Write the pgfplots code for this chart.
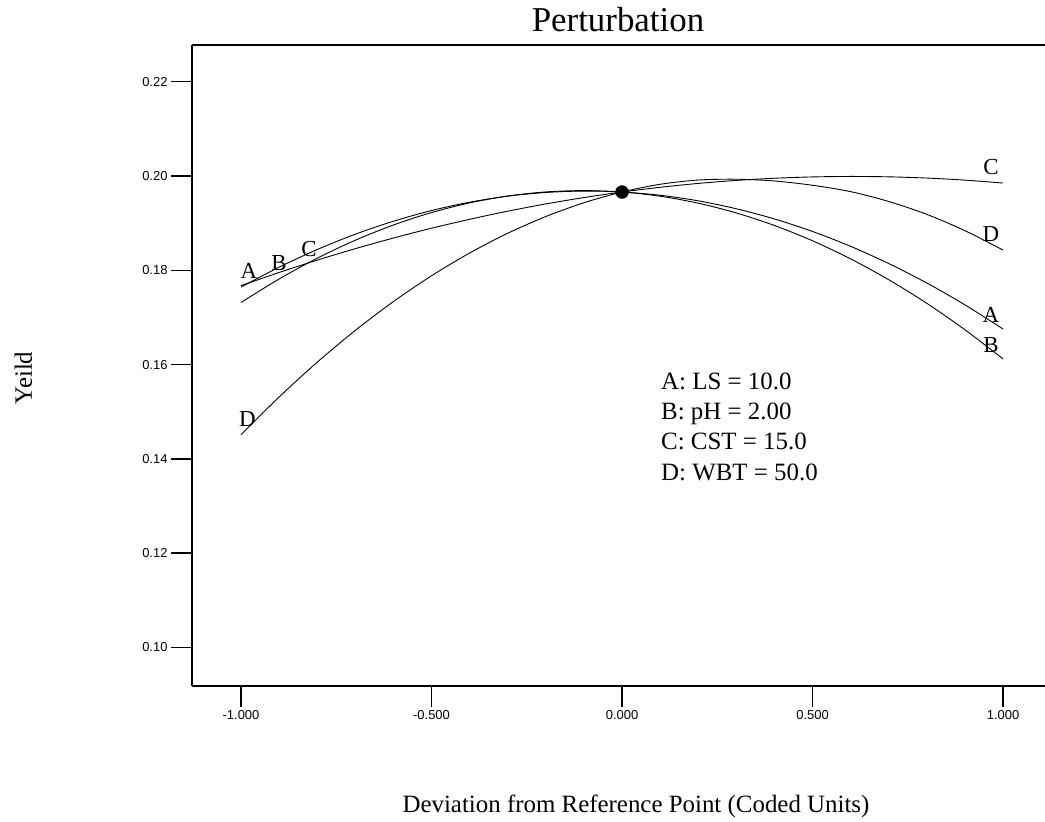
\documentclass[border=0pt]{standalone}
\usepackage{pgfplots}
\pgfplotsset{compat=1.18}
\usepackage{fontspec}
\setmainfont{Liberation Serif}
\newfontfamily\tickfont{Liberation Sans}

\pgfplotstableread{
x A B C D
-1.0 0.17643 0.17316 0.17674 0.14510
-0.9 0.18066 0.17815 0.17953 0.15312
-0.8 0.18440 0.18256 0.18215 0.16050
-0.7 0.18765 0.18637 0.18458 0.16725
-0.6 0.19040 0.18960 0.18684 0.17336
-0.5 0.19267 0.19224 0.18892 0.17883
-0.4 0.19444 0.19429 0.19081 0.18366
-0.3 0.19572 0.19575 0.19253 0.18785
-0.2 0.19650 0.19662 0.19407 0.19140
-0.1 0.19680 0.19690 0.19542 0.19432
0.0 0.19660 0.19660 0.19660 0.19660
0.1 0.19591 0.19571 0.19760 0.19824
0.2 0.19473 0.19423 0.19842 0.19914
0.3 0.19305 0.19216 0.19906 0.19931
0.4 0.19089 0.18950 0.19952 0.19894
0.5 0.18823 0.18626 0.19980 0.19803
0.6 0.18508 0.18242 0.19990 0.19668
0.7 0.18143 0.17800 0.19982 0.19459
0.8 0.17730 0.17299 0.19956 0.19186
0.9 0.17267 0.16739 0.19912 0.18840
1.0 0.16755 0.16120 0.19850 0.18430
}\curves

\begin{document}
\begin{tikzpicture}
\useasboundingbox (0,0) rectangle (1045bp,822bp);
\begin{axis}[
  at={(192bp,136bp)}, anchor=south west,
  width=853bp, height=641bp, scale only axis,
  xmin=-1.1286, xmax=1.1102,
  ymin=0.09183, ymax=0.22778,
  axis lines*=left,
  axis line style={-, line width=1.5bp},
  tick align=outside,
  major tick length=21bp,
  tick style={line width=1.5bp, black},
  xtick={-1,-0.5,0,0.5,1},
  ytick={0.10,0.12,0.14,0.16,0.18,0.20,0.22},
  xticklabel style={/pgf/number format/.cd, fixed, fixed zerofill, precision=3, assume math mode=true},
  yticklabel style={/pgf/number format/.cd, fixed, fixed zerofill, precision=2, assume math mode=true},
  ticklabel style={font=\fontsize{13}{15}\selectfont\tickfont},
  title={Perturbation},
  title style={font=\fontsize{35}{40}\selectfont, at={(axis description cs:0.4994,1)}, anchor=base, yshift=8bp},
  xlabel={Deviation from Reference Point (Coded Units)},
  xlabel style={font=\fontsize{25}{30}\selectfont, at={(axis description cs:0.5205,0)}, anchor=base, yshift=-126bp},
  ylabel={Yeild},
  ylabel style={font=\fontsize{25}{30}\selectfont, at={(axis description cs:-0.1876,0.4805)}, anchor=base},
  clip=false,
]
\draw[line width=1.5bp] (rel axis cs:0,1) -- (rel axis cs:1,1);
\addplot[black, line width=0.9bp, smooth] table[x=x, y=A] {\curves};
\addplot[black, line width=0.9bp, smooth] table[x=x, y=B] {\curves};
\addplot[black, line width=0.9bp, smooth] table[x=x, y=C] {\curves};
\addplot[black, line width=0.9bp, smooth] table[x=x, y=D] {\curves};
\addplot[only marks, mark=*, mark size=6.5bp, black] coordinates {(0,0.1966)};
\begin{scope}[every node/.style={font=\fontsize{23}{26}\selectfont, inner sep=0pt, anchor=center}]
\node at (axis cs:-0.979,0.17996) {A};
\node at (axis cs:-0.9003,0.18144) {B};
\node at (axis cs:-0.8215,0.18441) {C};
\node at (axis cs:-0.9829,0.14846) {D};
\node at (axis cs:0.9685,0.2018) {C};
\node at (axis cs:0.9685,0.1877) {D};
\node at (axis cs:0.9685,0.17052) {A};
\node at (axis cs:0.9685,0.16416) {B};
\end{scope}
\begin{scope}[every node/.style={font=\fontsize{25}{30}\selectfont, inner sep=0pt, anchor=base west}]
\node at (axis cs:0.1024,0.15461) {A: LS = 10.0};
\node at (axis cs:0.1024,0.14825) {B: pH = 2.00};
\node at (axis cs:0.1024,0.14189) {C: CST = 15.0};
\node at (axis cs:0.1024,0.13532) {D: WBT = 50.0};
\end{scope}
\end{axis}
\end{tikzpicture}
\end{document}
